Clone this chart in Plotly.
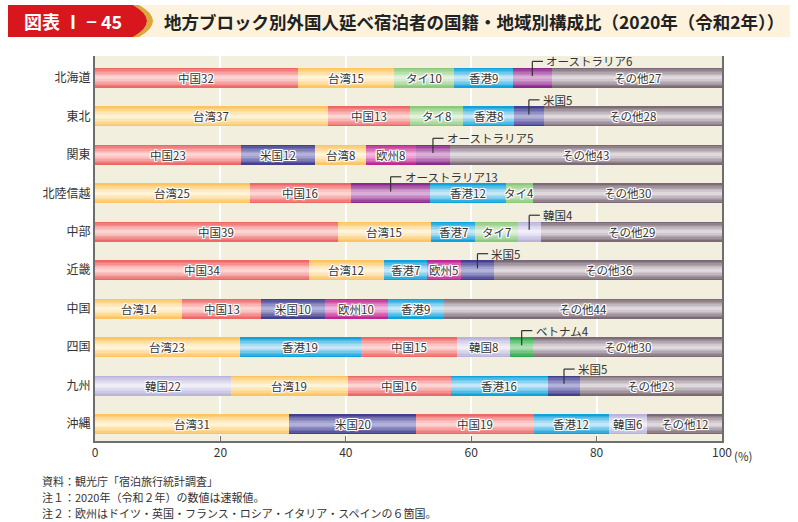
import plotly.graph_objects as go

# ---------------- data ----------------
REGIONS = ["北海道", "東北", "関東", "北陸信越", "中部", "近畿", "中国", "四国", "九州", "沖縄"]

ROW_NAMES = [
    ["中国", "台湾", "タイ", "香港", "オーストラリア", "その他"],
    ["台湾", "中国", "タイ", "香港", "米国", "その他"],
    ["中国", "米国", "台湾", "欧州", "オーストラリア", "その他"],
    ["台湾", "中国", "オーストラリア", "香港", "タイ", "その他"],
    ["中国", "台湾", "香港", "タイ", "韓国", "その他"],
    ["中国", "台湾", "香港", "欧州", "米国", "その他"],
    ["台湾", "中国", "米国", "欧州", "香港", "その他"],
    ["台湾", "香港", "中国", "韓国", "ベトナム", "その他"],
    ["韓国", "台湾", "中国", "香港", "米国", "その他"],
    ["台湾", "米国", "中国", "香港", "韓国", "その他"],
]
ROW_VALUES = [
    [32.3, 15.4, 9.6, 9.3, 6.3, 27.1],
    [37.1, 13.2, 8.4, 8.1, 4.8, 28.4],
    [23.3, 11.8, 8.1, 8.0, 5.4, 43.4],
    [24.7, 16.1, 12.7, 12.0, 4.4, 30.1],
    [38.7, 14.9, 7.0, 6.8, 3.7, 28.9],
    [34.1, 12.0, 6.8, 5.4, 5.4, 36.3],
    [13.9, 12.6, 10.2, 10.0, 8.9, 44.4],
    [23.1, 19.3, 15.4, 8.4, 3.7, 30.1],
    [21.7, 18.6, 16.4, 15.6, 5.0, 22.7],
    [31.0, 20.2, 18.8, 11.9, 6.1, 12.0],
]
# index of the segment whose label sits outside with a leader line (None = all inside)
ROW_CALLOUT = [4, 4, 4, 2, 4, 4, None, 4, 4, None]

X_TICKS = [0, 20, 40, 60, 80, 100]

TITLE_TAG = "図表 Ⅰ − 45"
TITLE = "地方ブロック別外国人延べ宿泊者の国籍・地域別構成比（2020年（令和2年））"
NOTES = [
    "資料：観光庁「宿泊旅行統計調査」",
    "注１：2020年（令和２年）の数値は速報値。",
    "注２：欧州はドイツ・英国・フランス・ロシア・イタリア・スペインの６箇国。",
]

# ---------------- styles ----------------
COLORS = {  # (edge, centre) of the bar gradient
    "中国": ("#EE6868", "#FCD4D2"),
    "台湾": ("#FDC561", "#FFF3D8"),
    "タイ": ("#8CC97B", "#E0F2DA"),
    "香港": ("#0FA2DB", "#C4E8F8"),
    "オーストラリア": ("#8B2A8A", "#DBAED8"),
    "その他": ("#7C6B77", "#DFD8DD"),
    "米国": ("#43408E", "#B2B1DA"),
    "欧州": ("#BE2891", "#F2B6DE"),
    "韓国": ("#BAB4DC", "#F0EEF8"),
    "ベトナム": ("#2DA749", "#ACDFB3"),
}
FONT = "Noto Sans CJK JP"
TXT = "#333333"

W, H = 798, 522
L, R, T, B = 95, 722, 56, 441  # plot area in pixels


def px(x):
    return (x - L) / (R - L)


def py(y):
    return (B - y) / (B - T)


def hex2rgb(h):
    h = h.lstrip("#")
    return [int(h[i:i + 2], 16) for i in (0, 2, 4)]


def blend(a, b, t):
    ra, rb = hex2rgb(a), hex2rgb(b)
    return "rgb(%d,%d,%d)" % tuple(round(ra[i] + (rb[i] - ra[i]) * t) for i in range(3))


# flatten segments
seg_y, seg_x, seg_base, seg_name = [], [], [], []
for r, (names, vals) in enumerate(zip(ROW_NAMES, ROW_VALUES)):
    acc = 0.0
    for n, v in zip(names, vals):
        seg_y.append(r)
        seg_x.append(v)
        seg_base.append(acc)
        seg_name.append(n)
        acc += v

BAR_W = 0.52
LAYERS = 7
fig = go.Figure()
for k in range(LAYERS):
    frac = 1 - k / LAYERS
    t = (k / (LAYERS - 1)) ** 0.9
    fig.add_trace(go.Bar(
        orientation="h",
        y=seg_y, x=seg_x, base=seg_base,
        width=[BAR_W * frac] * len(seg_x),
        marker=dict(color=[blend(COLORS[n][0], COLORS[n][1], t) for n in seg_name],
                    line=dict(width=0)),
        hoverinfo="skip", showlegend=False,
    ))

annotations = []
shapes = []
OUTLINE = "1px 1px 0 #fff, -1px -1px 0 #fff, 1px -1px 0 #fff, -1px 1px 0 #fff, 0 1px 0 #fff, 0 -1px 0 #fff, 1px 0 0 #fff, -1px 0 0 #fff"

for r, (names, vals) in enumerate(zip(ROW_NAMES, ROW_VALUES)):
    acc = 0.0
    for i, (n, v) in enumerate(zip(names, vals)):
        xc = acc + v / 2
        label = f"{n}{round(v)}"
        if ROW_CALLOUT[r] == i:
            ytop = r - 0.43
            shapes.append(dict(type="line", xref="x", yref="y", x0=xc, x1=xc, y0=r - 0.05, y1=ytop,
                               line=dict(color="#333", width=1.2)))
            shapes.append(dict(type="line", xref="x", yref="y", x0=xc, x1=xc + 1.7, y0=ytop, y1=ytop,
                               line=dict(color="#333", width=1.2)))
            annotations.append(dict(x=xc + 1.9, y=ytop, xref="x", yref="y", text=label,
                                    showarrow=False, xanchor="left", yanchor="middle",
                                    font=dict(family=FONT, size=11.5, color=TXT)))
        else:
            annotations.append(dict(x=xc, y=r, xref="x", yref="y", text=label,
                                    showarrow=False, xanchor="center", yanchor="middle",
                                    font=dict(family=FONT, size=11.5, color=TXT, shadow=OUTLINE)))
        acc += v

# (%) after 100
annotations.append(dict(x=100, y=0, xref="x", yref="paper", text="(%)", showarrow=False,
                        xanchor="left", yanchor="top", xshift=10, yshift=-5,
                        font=dict(family=FONT, size=11.5, color=TXT)))

# notes
for j, note in enumerate(NOTES):
    annotations.append(dict(x=px(40), y=py(481 + j * 16), xref="paper", yref="paper", text=note,
                            showarrow=False, xanchor="left", yanchor="middle",
                            font=dict(family=FONT, size=11, color=TXT)))

# title band
shapes.append(dict(type="rect", xref="paper", yref="paper", x0=px(133), x1=px(790), y0=py(37), y1=py(5),
                   fillcolor="#FDF2DE", line=dict(width=0), layer="below"))

red = "M %f,%f L %f,%f Q %f,%f %f,%f L %f,%f Z" % (
    px(8), py(5), px(133), py(5), px(161), py(21), px(133), py(37), px(8), py(37))
gold = "M %f,%f L %f,%f Q %f,%f %f,%f L %f,%f Q %f,%f %f,%f Z" % (
    px(133), py(5), px(139), py(5), px(167), py(21), px(139), py(37), px(133), py(37),
    px(161), py(21), px(133), py(5))
shapes.append(dict(type="path", xref="paper", yref="paper", path=gold, fillcolor="#D9A93A",
                   line=dict(width=0)))
shapes.append(dict(type="path", xref="paper", yref="paper", path=red, fillcolor="#D7161E",
                   line=dict(width=0)))

annotations.append(dict(x=px(22), y=py(21), xref="paper", yref="paper", text=TITLE_TAG, showarrow=False,
                        xanchor="left", yanchor="middle",
                        font=dict(family=FONT, size=18, color="white", weight="bold")))
annotations.append(dict(x=px(162), y=py(21), xref="paper", yref="paper", text=TITLE, showarrow=False,
                        xanchor="left", yanchor="middle",
                        font=dict(family=FONT, size=17.5, color="#222222", weight="bold")))

fig.update_layout(
    width=W, height=H,
    margin=dict(l=L, r=W - R, t=T, b=H - B, pad=0),
    paper_bgcolor="white", plot_bgcolor="#F2EFDF",
    barmode="overlay", bargap=0,
    showlegend=False,
    annotations=annotations, shapes=shapes,
    font=dict(family=FONT, color=TXT),
    xaxis=dict(range=[0, 100], tickvals=X_TICKS, ticktext=[str(v) for v in X_TICKS],
               showgrid=True, gridcolor="white", gridwidth=1.5, zeroline=False,
               showline=True, linecolor="#6E6E6E", linewidth=1.5,
               ticks="inside", ticklen=5, tickcolor="#6E6E6E",
               tickfont=dict(family=FONT, size=12, color=TXT), fixedrange=True),
    yaxis=dict(range=[9.44, -0.57], tickvals=list(range(len(REGIONS))), ticktext=REGIONS,
               showgrid=False, zeroline=False, showline=True, linecolor="#6E6E6E", linewidth=2,
               mirror=True, ticks="", tickfont=dict(family=FONT, size=12, color=TXT), fixedrange=True),
)

fig.write_html("out.html", config={"displayModeBar": False},
               post_script="document.body.style.margin='0';")
